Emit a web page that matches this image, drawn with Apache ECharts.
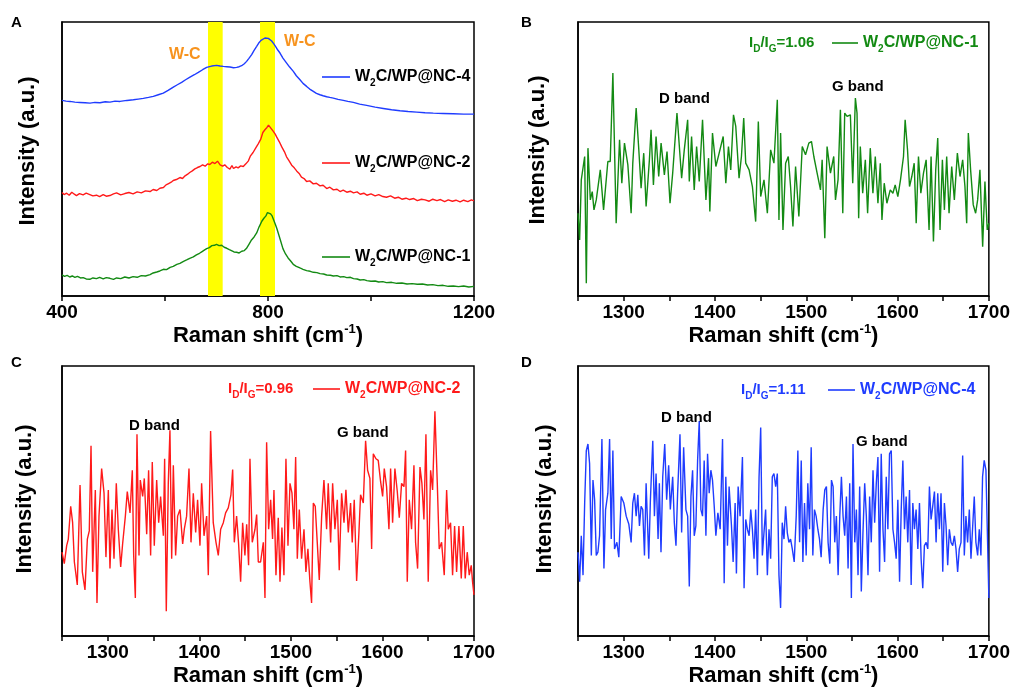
<!DOCTYPE html>
<html>
<head>
<meta charset="utf-8">
<title>Raman spectra of W2C/WP@NC</title>
<script src="https://cdn.jsdelivr.net/npm/echarts@6/dist/echarts.min.js"></script>
<style>
  html, body { margin: 0; padding: 0; background: #fff; }
  #chart { width: 1013px; height: 690px; }
</style>
</head>
<body>
<div id="chart"></div>
<script>
// ---- Panel A: W-C region, 400-1200 cm-1 (offset traces, a.u.) ----
const overviewNC4 = [[400,586],[408,584],[415.5,583],[425,581],[434.9,580],[445,579],[454.4,578],[464,580],[473.8,579],[484,582],[493.2,581],[503,584],[512.6,583],[526,586],[538.5,588],[548,590],[557.9,592],[568,595],[577.3,598],[587,603],[596.7,608],[606,616],[616.2,626],[624,633],[632.3,640],[640,648],[648.5,656],[657,663],[664.7,670],[673,678],[680.9,685],[690.6,689],[700.3,691],[707,689],[713.2,688],[720,687],[726.2,686],[733,684],[739.1,685],[744,687],[748.8,690],[754,696],[758.5,703],[763,712],[768.3,723],[773,736],[778,748],[782,758],[786.4,766],[790,771],[794.1,773],[797,774],[800.6,772],[804,769],[807.1,764],[811,756],[815.5,746],[819,737],[823.3,728],[829,713],[836.2,698],[842,686],[849.2,673],[855,660],[862.1,648],[868,637],[875,628],[881,620],[888,613],[894,607],[900.9,603],[907,600],[913.9,597],[920,595],[926.8,593],[936,589],[946.2,586],[955,583],[965.7,580],[978,575],[991.5,571],[1008,566],[1023.9,562],[1040,558],[1056.3,555],[1072,553],[1088.6,551],[1105,549],[1121,548],[1140,547],[1159.8,546],[1180,545],[1200,545]];
const overviewNC2 = [[400,310],[404,304],[409,308],[414,302],[419,311],[424,305],[428,301],[434,307],[441,303],[447,308],[454,304],[460,300],[467,302],[473,298],[480,304],[486,299],[493,301],[500,306],[506,309],[514,303],[522,307],[530,310],[538,306],[546,312],[554,309],[562,315],[571,313],[577,319],[584,316],[590,323],[597,325],[602,333],[607,337],[612,341],[616,346],[622,349],[629,355],[634,352],[639,360],[644,365],[648,370],[653,375],[658,381],[663,385],[668,388],[673,393],[678,389],[683,396],[687,394],[692,401],[697,397],[702,404],[707,393],[712,389],[716,393],[721,385],[726,380],[730,391],[733,382],[738,387],[742,384],[747,390],[752,388],[757,396],[762,405],[766,420],[771,430],[776,443],[781,456],[786,470],[790,490],[794,498],[798,505],[801,512],[804,510],[807,500],[810,494],[814,485],[817,476],[822,462],[827,446],[832,432],[836,417],[841,405],[846,392],[851,384],[856,374],[861,366],[865,356],[870,352],[875,343],[881,345],[888,336],[894,338],[901,330],[907,332],[914,322],[920,326],[927,318],[934,320],[940,313],[946,317],[953,311],[960,314],[966,309],[973,312],[979,305],[986,308],[992,302],[1000,306],[1008,300],[1015,304],[1023,298],[1030,296],[1038,300],[1046,293],[1053,296],[1060,290],[1068,293],[1075,289],[1083,292],[1090,286],[1098,290],[1105,288],[1113,284],[1120,290],[1128,286],[1135,289],[1143,283],[1150,288],[1158,284],[1165,287],[1173,282],[1180,287],[1188,283],[1195,288],[1200,285]];
const overviewNC1 = [[400,63],[405,59],[410,62],[415,57],[420,60],[425,56],[430,59],[436,54],[441,55],[447,51],[454,50],[460,54],[467,52],[473,56],[480,51],[486,55],[493,53],[500,50],[506,54],[514,52],[522,57],[530,54],[538,58],[546,56],[554,61],[562,60],[571,64],[577,69],[584,72],[590,75],[597,80],[603,79],[610,86],[616,89],[623,95],[629,98],[636,104],[642,108],[648,113],[655,117],[661,123],[667,128],[672,133],[677,138],[681,142],[686,145],[691,151],[696,152],[700,155],[705,151],[710,152],[715,146],[720,143],[725,139],[729,136],[734,132],[739,131],[744,129],[749,134],[754,136],[758,142],[763,155],[768,168],[773,177],[778,189],[783,208],[788,224],[792,233],[796,240],[799,250],[802,252],[805,246],[808,240],[811,228],[814,216],[817,203],[820,188],[824,168],[829,142],[834,126],[839,114],[844,105],[849,95],[855,89],[862,84],[868,80],[875,76],[882,74],[888,71],[895,70],[901,67],[908,66],[914,63],[921,62],[927,60],[934,61],[940,57],[947,58],[953,55],[960,56],[966,52],[973,51],[979,48],[986,49],[992,46],[1000,44],[1008,45],[1015,42],[1023,43],[1030,40],[1040,41],[1050,38],[1060,39],[1070,36],[1080,37],[1090,35],[1100,36],[1110,33],[1120,34],[1130,31],[1140,32],[1150,29],[1160,30],[1170,28],[1180,30],[1190,27],[1200,29]];
// W-C band positions (cm-1)
const wcBands = [[683.5, 712], [784.5, 813.6]];

// ---- Panels B-D: D/G band region, 1250-1700 cm-1 ----
const ramanNC1 = [[1250.0,248],[1251.8,168],[1253.6,348],[1257.3,418],[1259.1,38],[1260.9,443],[1263.5,288],[1265.6,313],[1267.5,258],[1270.0,288],[1274.4,378],[1278.0,258],[1282.7,403],[1285.3,403],[1288.2,668],[1291.8,218],[1295.5,468],[1298.0,338],[1300.9,458],[1304.6,393],[1308.2,248],[1310.0,398],[1313.7,563],[1316.6,438],[1319.1,323],[1322.0,428],[1324.6,268],[1328.2,408],[1330.0,498],[1332.6,333],[1335.5,478],[1338.4,358],[1341.0,458],[1344.6,363],[1347.5,433],[1350.8,278],[1353.7,368],[1358.4,548],[1361.0,448],[1363.5,353],[1366.4,438],[1370.1,528],[1371.9,343],[1374.4,478],[1377.3,318],[1379.9,448],[1382.8,343],[1386.4,528],[1390.1,288],[1393.0,413],[1394.4,253],[1397.3,488],[1401.0,388],[1404.6,428],[1409.0,478],[1411.9,338],[1414.8,448],[1417.3,378],[1420.3,543],[1422.8,508],[1426.4,353],[1429.0,418],[1431.5,533],[1433.7,398],[1437.4,378],[1441.0,328],[1444.6,223],[1447.5,523],[1450.1,298],[1453.7,348],[1457.4,248],[1461.0,438],[1464.6,398],[1468.3,588],[1470.1,228],[1471.9,488],[1474.5,198],[1477.4,398],[1480.3,418],[1482.8,328],[1485.4,208],[1488.3,388],[1491.9,238],[1495.6,448],[1499.2,423],[1502.8,458],[1505.7,463],[1508.3,418],[1511.9,368],[1515.6,318],[1517.4,408],[1520.3,173],[1522.8,448],[1526.5,368],[1530.1,418],[1532.0,288],[1534.8,348],[1537.4,558],[1540.0,248],[1542.1,548],[1544.7,538],[1548.3,543],[1550.9,338],[1553.8,593],[1555.6,548],[1557.4,233],[1559.2,448],[1561.8,308],[1564.7,408],[1567.2,248],[1570.1,443],[1573.0,308],[1575.6,418],[1578.5,278],[1581.1,398],[1582.9,228],[1585.4,338],[1588.3,278],[1592.0,318],[1594.9,308],[1597.4,333],[1600.3,298],[1603.2,348],[1606.5,418],[1608.3,528],[1610.9,438],[1613.1,328],[1615.6,358],[1618.2,398],[1620.4,218],[1622.9,418],[1625.5,308],[1628.4,368],[1631.3,408],[1634.5,198],[1636.7,418],[1639.3,163],[1641.8,378],[1644.0,473],[1646.5,198],[1649.1,408],[1651.3,258],[1653.8,418],[1656.4,248],[1659.3,388],[1662.2,288],[1665.5,428],[1668.4,358],[1671.3,408],[1673.8,328],[1675.7,218],[1677.5,488],[1680.0,378],[1682.9,273],[1685.5,248],[1687.7,288],[1690.2,378],[1693.2,148],[1695.7,343],[1698.2,198],[1700.0,218]];
const ramanNC2 = [[1250.0,256],[1252.5,221],[1255.1,276],[1256.9,296],[1259.5,396],[1261.6,346],[1263.5,226],[1266.7,156],[1269.7,461],[1272.2,196],[1275.1,141],[1277.7,296],[1279.8,321],[1281.7,581],[1283.5,196],[1286.4,446],[1288.2,101],[1290.4,366],[1293.3,511],[1295.9,436],[1298.0,241],[1300.6,446],[1302.4,206],[1304.6,386],[1306.8,236],[1309.3,466],[1311.5,326],[1314.1,211],[1316.2,281],[1319.2,366],[1321.3,441],[1324.3,376],[1326.8,506],[1328.3,246],[1330.1,116],[1331.9,616],[1334.1,246],[1335.5,476],[1338.1,426],[1339.9,481],[1342.5,311],[1344.6,506],[1346.8,246],[1348.6,531],[1350.8,276],[1353.4,476],[1355.6,346],[1357.7,426],[1360.7,306],[1362.1,541],[1363.9,76],[1366.1,466],[1367.9,628],[1369.8,236],[1371.6,521],[1374.1,246],[1376.3,366],[1378.9,386],[1381.8,281],[1383.6,326],[1386.1,366],[1388.7,511],[1390.9,286],[1393.4,436],[1396.0,316],[1398.1,416],[1400.7,276],[1402.5,466],[1405.1,306],[1408.0,366],[1409.8,186],[1412.3,626],[1415.2,346],[1418.2,286],[1420.7,246],[1423.3,326],[1426.2,346],[1428.7,376],[1431.6,391],[1434.5,431],[1436.4,508],[1438.2,286],[1440.7,366],[1442.9,281],[1445.1,166],[1447.3,346],[1449.8,246],[1451.7,341],[1453.8,216],[1455.3,541],[1457.8,286],[1460.8,326],[1462.6,371],[1464.4,226],[1466.9,226],[1469.9,286],[1471.7,116],[1473.5,591],[1475.7,326],[1477.9,416],[1480.0,296],[1481.5,446],[1483.7,186],[1486.2,361],[1488.1,166],[1490.2,331],[1492.4,186],[1494.6,541],[1496.8,276],[1499.0,466],[1501.2,436],[1503.3,326],[1505.2,546],[1507.0,236],[1509.2,386],[1511.7,236],[1514.3,326],[1516.4,196],[1518.6,266],[1520.8,166],[1522.6,101],[1524.5,406],[1526.6,396],[1528.8,286],[1531.0,171],[1533.6,366],[1536.1,476],[1539.0,326],[1540.8,466],[1543.4,286],[1545.6,466],[1548.1,326],[1550.7,416],[1552.8,201],[1555.4,436],[1558.0,346],[1560.1,446],[1562.7,316],[1565.2,406],[1567.0,286],[1569.2,416],[1571.8,168],[1574.3,316],[1576.1,431],[1579.1,406],[1581.6,596],[1583.8,506],[1586.3,481],[1588.2,266],[1590.0,556],[1592.9,541],[1595.4,536],[1598.0,471],[1600.2,426],[1602.0,511],[1604.5,456],[1607.1,326],[1608.9,511],[1611.1,346],[1613.6,511],[1616.2,441],[1618.4,361],[1620.9,466],[1623.5,456],[1625.3,566],[1627.1,166],[1629.3,416],[1631.8,326],[1634.4,521],[1636.2,286],[1638.4,206],[1641.0,516],[1643.1,466],[1645.3,356],[1647.5,616],[1650.0,166],[1652.6,506],[1654.8,446],[1657.3,686],[1659.9,466],[1662.0,266],[1664.6,286],[1667.5,186],[1670.1,446],[1671.9,326],[1674.4,346],[1676.6,186],[1678.8,336],[1681.0,196],[1683.5,336],[1686.1,176],[1688.3,336],[1690.4,176],[1692.6,256],[1694.8,186],[1697.0,216],[1698.4,166],[1700.0,126]];
const ramanNC4 = [[1250.0,256],[1251.8,166],[1253.6,306],[1255.5,186],[1257.3,406],[1259.1,566],[1260.9,586],[1262.7,526],[1264.6,246],[1266.4,476],[1268.2,416],[1270.0,246],[1271.8,256],[1273.6,306],[1276.2,601],[1278.4,206],[1280.2,386],[1282.7,436],[1284.6,601],[1286.4,296],[1288.2,566],[1290.0,266],[1292.6,286],[1294.7,241],[1297.3,426],[1300.2,406],[1302.8,366],[1305.7,341],[1308.2,286],[1310.0,406],[1311.8,436],[1313.7,366],[1315.5,431],[1317.3,336],[1319.1,396],[1320.9,386],[1322.8,246],[1324.6,466],[1327.5,236],[1329.3,416],[1331.9,596],[1333.7,366],[1335.5,496],[1337.7,296],[1339.1,466],[1340.9,256],[1342.8,486],[1345.0,586],[1347.1,416],[1349.3,521],[1351.1,386],[1353.7,486],[1355.5,346],[1357.3,276],[1359.1,436],[1361.7,616],[1363.5,316],[1365.7,576],[1368.2,386],[1370.1,366],[1371.9,151],[1373.7,426],[1375.5,506],[1377.3,306],[1379.1,336],[1381.0,536],[1382.8,656],[1384.6,386],[1386.4,366],[1388.2,536],[1390.1,306],[1391.9,556],[1393.7,436],[1395.5,506],[1397.3,476],[1399.2,396],[1401.0,306],[1403.2,376],[1405.7,326],[1408.3,601],[1410.1,161],[1411.9,486],[1413.7,276],[1415.5,456],[1418.1,336],[1419.9,226],[1422.1,406],[1423.5,191],[1425.4,456],[1427.5,366],[1430.1,546],[1431.9,146],[1433.7,356],[1435.5,326],[1437.4,306],[1439.2,386],[1441.0,326],[1442.8,236],[1444.6,386],[1446.5,186],[1448.3,486],[1450.1,636],[1451.9,246],[1453.7,316],[1455.5,386],[1457.4,186],[1459.2,326],[1461.0,236],[1462.8,486],[1464.6,496],[1466.5,456],[1468.3,496],[1470.1,186],[1471.9,86],[1473.7,346],[1475.6,296],[1477.4,396],[1479.2,316],[1481.0,286],[1482.8,296],[1484.7,266],[1486.8,226],[1489.0,366],[1490.8,566],[1492.7,286],[1494.5,536],[1496.3,226],[1498.1,406],[1499.9,246],[1501.7,466],[1503.6,326],[1505.4,576],[1507.2,246],[1509.0,386],[1510.8,366],[1512.7,326],[1514.5,296],[1516.3,241],[1518.5,386],[1520.3,446],[1522.1,456],[1523.9,286],[1525.8,221],[1527.6,476],[1529.4,456],[1531.2,286],[1533.0,366],[1534.9,186],[1536.7,366],[1538.5,486],[1540.3,366],[1542.1,306],[1544.0,426],[1545.8,206],[1547.6,466],[1549.4,116],[1551.2,586],[1553.1,286],[1554.9,386],[1556.7,186],[1558.5,456],[1560.3,136],[1562.1,316],[1564.0,466],[1565.8,366],[1567.6,186],[1569.4,426],[1571.2,286],[1573.1,506],[1574.9,346],[1576.7,466],[1578.5,546],[1580.3,196],[1582.1,556],[1584.0,326],[1585.8,226],[1587.6,486],[1589.4,326],[1591.2,556],[1593.1,566],[1594.9,326],[1596.7,286],[1598.5,236],[1600.3,416],[1602.2,166],[1604.0,386],[1605.8,536],[1607.6,326],[1609.4,426],[1611.2,286],[1613.1,446],[1614.9,156],[1616.7,406],[1618.5,326],[1620.3,386],[1622.2,266],[1624.0,406],[1625.8,236],[1627.6,146],[1629.4,276],[1631.3,286],[1633.1,266],[1634.9,456],[1636.7,356],[1638.5,396],[1640.4,441],[1642.2,286],[1644.0,436],[1645.8,326],[1647.6,436],[1649.5,196],[1651.3,406],[1653.1,336],[1654.9,216],[1656.7,326],[1658.5,286],[1660.4,276],[1662.2,306],[1664.0,266],[1665.8,196],[1667.6,266],[1669.5,286],[1671.3,551],[1673.1,246],[1674.9,366],[1676.7,286],[1678.6,386],[1680.4,236],[1682.2,236],[1684.0,426],[1685.8,286],[1687.7,246],[1689.5,326],[1691.3,246],[1693.1,486],[1694.9,536],[1696.8,506],[1698.6,286],[1700.0,116]];

// I_D / I_G ratios for NC-1, NC-2, NC-4
const ratioLabels = ['1.06', '0.96', '1.11'];
const sampleNames = ['W2C/WP@NC-1', 'W2C/WP@NC-2', 'W2C/WP@NC-4'];

const FONT = '"Liberation Sans", Arial, Helvetica, sans-serif';
const GREEN = '#138a13', RED = '#ff1a1a', BLUE = '#1f3cff', ORANGE = '#f7931e';

const gridBoxes = [
  { left: 62,  top: 22,  width: 412, height: 274 },
  { left: 578, top: 22,  width: 412, height: 274 },
  { left: 62,  top: 366, width: 412, height: 274 },
  { left: 578, top: 366, width: 412, height: 274 }
];

const xRanges = [
  { min: 400,  max: 1200, interval: 200, labelEvery: 400 },
  { min: 1250, max: 1700, interval: 50,  labelEvery: 100 },
  { min: 1250, max: 1700, interval: 50,  labelEvery: 100 },
  { min: 1250, max: 1700, interval: 50,  labelEvery: 100 }
];
const yMax = [821, 821, 824, 824];
const yNameGap = [23, 29, 26, 22];
const yNamePad = [[0, 0, 0, 16], [0, 0, 0, 18], [0, 0, 0, 4], [0, 0, 0, 4]];

const subRich = { fontSize: 10, fontWeight: 'bold', fontFamily: FONT, verticalAlign: 'bottom', lineHeight: 10 };

const xAxes = xRanges.map((r, i) => ({
  gridIndex: i, type: 'value', min: r.min, max: r.max, interval: r.interval,
  axisLine: { lineStyle: { color: '#000', width: 1.5 } },
  axisTick: { inside: false, length: 5, lineStyle: { color: '#000', width: 1.5 } },
  axisLabel: {
    margin: 7, color: '#000', fontSize: 19, fontWeight: 'bold', fontFamily: FONT,
    formatter: v => (v % r.labelEvery === 0 ? String(v) : '')
  },
  splitLine: { show: false },
  name: 'Raman shift (cm{sup|-1})', nameLocation: 'middle', nameGap: 24,
  nameTextStyle: {
    color: '#000', fontSize: 22, fontWeight: 'bold', fontFamily: FONT, lineHeight: 26,
    rich: { sup: { fontSize: 13, fontWeight: 'bold', fontFamily: FONT, verticalAlign: 'top', lineHeight: 13 } }
  }
}));

const yAxes = yMax.map((m, i) => ({
  gridIndex: i, type: 'value', min: 0, max: m,
  axisLine: { show: true, lineStyle: { color: '#000', width: 1.5 } },
  axisTick: { show: false }, axisLabel: { show: false }, splitLine: { show: false },
  name: 'Intensity (a.u.)', nameLocation: 'middle', nameRotate: 90, nameGap: yNameGap[i],
  nameTextStyle: { color: '#000', fontSize: 22, fontWeight: 'bold', fontFamily: FONT, padding: yNamePad[i] }
}));

function lineSeries(name, data, color, idx, extra) {
  return Object.assign({
    name: name, type: 'line', data: data, xAxisIndex: idx, yAxisIndex: idx,
    symbol: 'none', showSymbol: false, smooth: false,
    lineStyle: { color: color, width: 1.4 }, itemStyle: { color: color },
    emphasis: { disabled: true }, silent: true, z: 3
  }, extra || {});
}

const series = [
  lineSeries(sampleNames[2], overviewNC4, BLUE, 0),
  lineSeries(sampleNames[1], overviewNC2, RED, 0),
  lineSeries(sampleNames[0], overviewNC1, GREEN, 0, {
    markArea: {
      silent: true, z: 1,
      itemStyle: { color: '#ffff00', opacity: 1 },
      data: wcBands.map(b => [{ xAxis: b[0] }, { xAxis: b[1] }])
    }
  }),
  lineSeries(sampleNames[0], ramanNC1, GREEN, 1),
  lineSeries(sampleNames[1], ramanNC2, RED, 2),
  lineSeries(sampleNames[2], ramanNC4, BLUE, 3)
];

// legend key: a short solid line followed by the sample name
function legendAt(name, left, centerY, width, color) {
  return {
    data: [name], left: left, top: centerY - 16, orient: 'horizontal',
    icon: 'rect', itemWidth: width, itemHeight: 1.6, selectedMode: false,
    formatter: n => n.replace('W2C', 'W{sub|2}C'),
    textStyle: {
      color: color, fontSize: 16, fontWeight: 'bold', fontFamily: FONT, lineHeight: 22,
      rich: { sub: Object.assign({ color: color }, subRich) }
    }
  };
}

const legends = [
  legendAt(sampleNames[2], 317, 77, 28, '#000'),
  legendAt(sampleNames[1], 317, 163, 28, '#000'),
  legendAt(sampleNames[0], 317, 257, 28, '#000'),
  legendAt(sampleNames[0], 827, 43, 26, GREEN),
  legendAt(sampleNames[1], 308, 389, 27, RED),
  legendAt(sampleNames[2], 823, 390, 27, BLUE)
];

function label(text, x, y, size, color, rich) {
  return {
    type: 'text', x: x, y: y, silent: true, z: 10,
    style: {
      text: text, fill: color, fontSize: size, fontWeight: 'bold', fontFamily: FONT,
      verticalAlign: 'middle', align: 'left', lineHeight: 22, rich: rich || {}
    }
  };
}
const ratioRich = c => ({ s: Object.assign({ fill: c }, subRich) });

const graphics = [
  label('A', 11, 23, 15, '#000'),
  label('B', 521, 23, 15, '#000'),
  label('C', 11, 363, 15, '#000'),
  label('D', 521, 363, 15, '#000'),
  label('W-C', 169, 55, 16, ORANGE),
  label('W-C', 284, 42, 16, ORANGE),
  label('I{s|D}/I{s|G}=' + ratioLabels[0], 749, 43, 15, GREEN, ratioRich(GREEN)),
  label('I{s|D}/I{s|G}=' + ratioLabels[1], 228, 389, 15, RED, ratioRich(RED)),
  label('I{s|D}/I{s|G}=' + ratioLabels[2], 741, 390, 15, BLUE, ratioRich(BLUE)),
  label('D band', 659, 99, 15, '#000'),
  label('G band', 832, 87, 15, '#000'),
  label('D band', 129, 426, 15, '#000'),
  label('G band', 337, 433, 15, '#000'),
  label('D band', 661, 418, 15, '#000'),
  label('G band', 856, 442, 15, '#000')
];

const chart = echarts.init(document.getElementById('chart'), null, { renderer: 'canvas' });
chart.setOption({
  backgroundColor: '#fff',
  animation: false,
  grid: gridBoxes.map(g => Object.assign({ show: true, borderColor: '#000', borderWidth: 1.5, backgroundColor: 'transparent' }, g)),
  xAxis: xAxes,
  yAxis: yAxes,
  legend: legends,
  series: series,
  graphic: graphics
});
</script>
</body>
</html>
